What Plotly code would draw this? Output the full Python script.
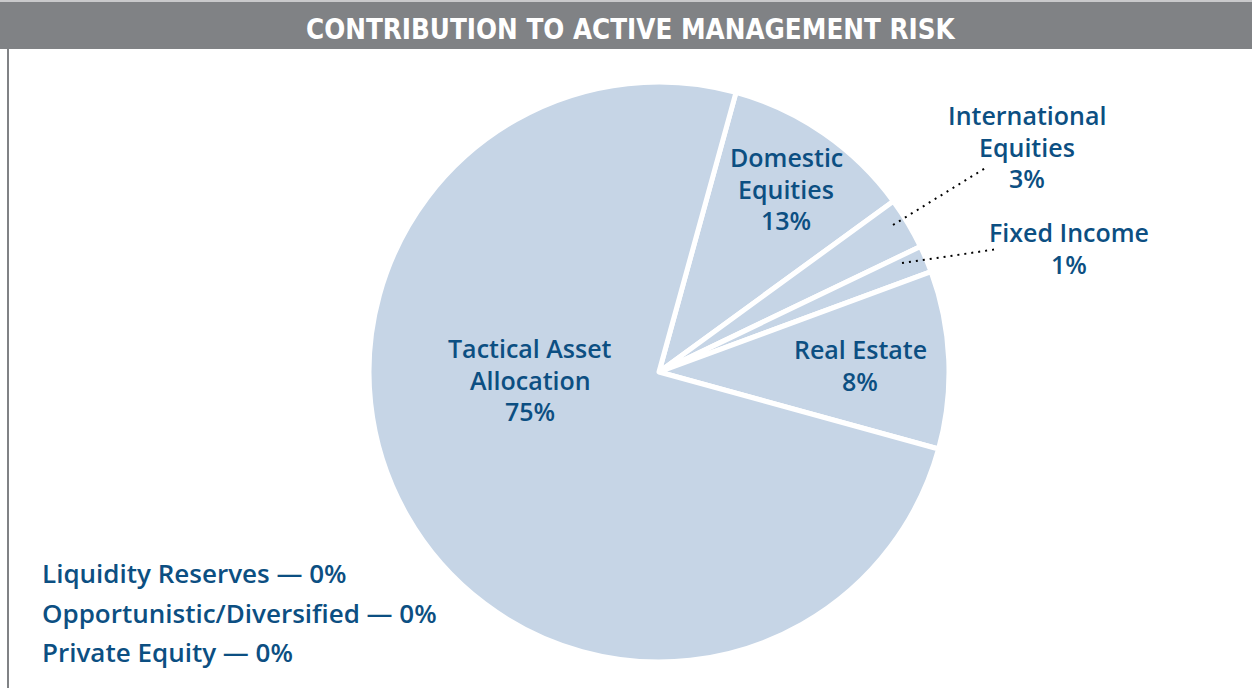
import plotly.graph_objects as go

W, H = 1252, 688

# ---- data ----
categories = ["Domestic Equities", "International Equities", "Fixed Income",
              "Real Estate", "Tactical Asset Allocation"]
slice_values = [10.7, 2.9, 1.5, 9.9, 75.0]          # slice sizes as drawn
pct_labels = ["13%", "3%", "1%", "8%", "75%"]          # printed percentages
zero_categories = ["Liquidity Reserves", "Opportunistic/Diversified", "Private Equity"]
zero_pct = ["0%", "0%", "0%"]

TITLE = "CONTRIBUTION TO ACTIVE MANAGEMENT RISK"
BLUE = "#0c4f82"
SLICE = "#c6d5e6"
GRAY = "#808285"
FONT = "Open Sans"


def px(x):
    return x / W


def py(y):
    return 1 - y / H


# pie box (pixels)
cx, cy, r = 659, 372, 290

fig = go.Figure()
fig.add_trace(go.Pie(
    labels=categories,
    values=slice_values,
    sort=False,
    direction="clockwise",
    rotation=15.4,
    marker=dict(colors=[SLICE] * len(categories), line=dict(color="white", width=5)),
    textinfo="none",
    hoverinfo="label+value",
    showlegend=False,
    domain=dict(x=[px(cx - r), px(cx + r)], y=[py(cy + r), py(cy - r)]),
))

annotations = []
# first-line centre positions of each label (pixels)
label_pos = {
    "Domestic Equities": (786, 157, ["Domestic", "Equities"]),
    "International Equities": (1027, 115, ["International", "Equities"]),
    "Fixed Income": (1069, 232, ["Fixed Income"]),
    "Real Estate": (860, 349, ["Real Estate"]),
    "Tactical Asset Allocation": (530, 348, ["Tactical Asset", "Allocation"]),
}
lab_font = dict(family=FONT, size=25, color=BLUE, weight=600)
for cat, pct in zip(categories, pct_labels):
    x, y, lines = label_pos[cat]
    for j, line in enumerate(lines + [pct]):
        annotations.append(dict(
            x=px(x), y=py(y + j * 31.5), xref="paper", yref="paper",
            xanchor="center", yanchor="middle",
            text=line, showarrow=False, align="center", font=lab_font))

list_font = dict(family=FONT, size=26, color=BLUE, weight=600)
for i, (cat, pct) in enumerate(zip(zero_categories, zero_pct)):
    annotations.append(dict(
        x=px(40), y=py(573 + i * 39.5), xref="paper", yref="paper", xanchor="left", yanchor="middle",
        text=cat + " \u2014 " + pct, showarrow=False, align="left", font=list_font))

annotations.append(dict(
    x=px(631), y=py(29), xref="paper", yref="paper", xanchor="center", yanchor="middle",
    text="<b>" + TITLE + "</b>", showarrow=False,
    font=dict(family="DejaVu Sans Condensed, Liberation Sans Narrow, sans-serif", size=27.5, color="white")))

shapes = [
    dict(type="rect", xref="paper", yref="paper", x0=0, x1=1, y0=py(2), y1=1,
         fillcolor="#c9c9cb", line=dict(width=0), layer="below"),
    dict(type="rect", xref="paper", yref="paper", x0=0, x1=1, y0=py(49), y1=py(2),
         fillcolor=GRAY, line=dict(width=0), layer="below"),
    dict(type="line", xref="paper", yref="paper", x0=px(8), x1=px(8), y0=0, y1=py(49),
         line=dict(color=GRAY, width=2)),
    # leader lines
    dict(type="line", xref="paper", yref="paper", x0=px(893), y0=py(225), x1=px(987), y1=py(167),
         line=dict(color="black", width=2, dash="2px,5px")),
    dict(type="line", xref="paper", yref="paper", x0=px(902), y0=py(263), x1=px(998), y1=py(249),
         line=dict(color="black", width=2, dash="2px,5px")),
]

fig.update_layout(
    width=W, height=H,
    margin=dict(l=0, r=0, t=0, b=0),
    paper_bgcolor="white", plot_bgcolor="white",
    annotations=annotations, shapes=shapes,
)

fig.write_html("out.html", config={"displayModeBar": False},
               post_script="document.body.style.margin='0';")
